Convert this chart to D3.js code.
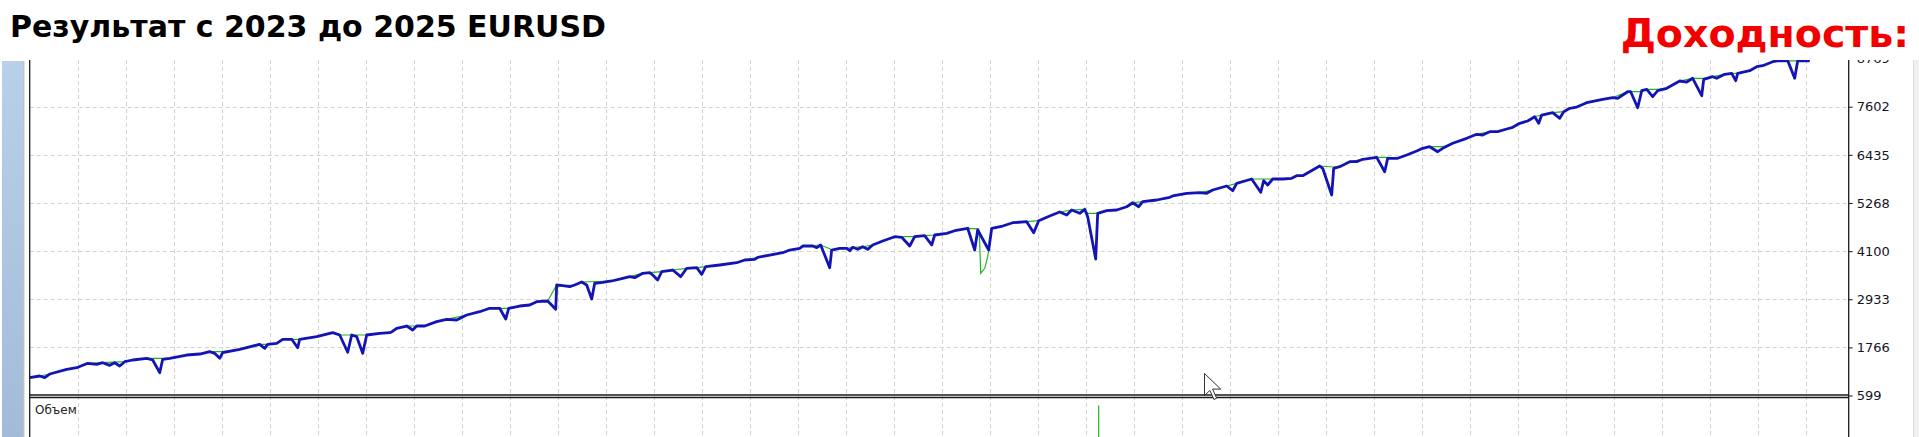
<!DOCTYPE html>
<html>
<head>
<meta charset="utf-8">
<script src="https://cdn.jsdelivr.net/npm/d3@7"></script>
<style>
  body { margin: 0; background: #fff; }
  svg { display: block; }
</style>
</head>
<body>
<svg width="1919" height="437"></svg>
<script>
var width = 1919;
var height = 437;

var titleText = "Результат с 2023 до 2025 EURUSD";
var yieldText = "Доходность:";
var volumeLabel = "Объем";

// y axis labels on the right
var yTicks = [599, 1766, 2933, 4100, 5268, 6435, 7602, 8769];

// trade number, balance (blue)
var balance = [
  [0,1031],[10,1072],[15,1031],[20,1120],[37,1234],[47,1273],[58,1380],[67,1356],[73,1394],[80,1331],[85,1394],[90,1314],[95,1419],[103,1460],[117,1501],[123,1460],[130,1152],[133,1477],[140,1501],[157,1581],[170,1605],[180,1661],[185,1622],[190,1501],[193,1637],[210,1719],[230,1841],[235,1744],[238,1841],[247,1865],[253,1962],[262,1962],[268,1758],[270,1962],[287,2025],[303,2122],[310,2066],[318,1647],[322,2066],[327,2025],[333,1622],[337,2066],[350,2107],[360,2122],[362,2139],
  [367,2229],[377,2284],[383,2187],[387,2284],[395,2284],[407,2389],[417,2447],[427,2430],[437,2551],[450,2631],[460,2714],[470,2714],[476,2454],[479,2714],[490,2769],[500,2794],[507,2874],[518,2891],[526,2689],[527,3279],[533,3262],[540,3237],[545,3279],[552,3351],[557,3279],[562,2939],[565,3320],[573,3344],[582,3376],[593,3441],[600,3480],[605,3456],[613,3562],[620,3577],[623,3521],[628,3400],[632,3601],[643,3642],[651,3480],[657,3684],[667,3698],[672,3538],[676,3722],[690,3764],[707,3819],[715,3885],[725,3902],[728,3950],[740,4006],[753,4062],[760,4127],[770,4169],[773,4224],[783,4224],[787,4183],[791,4249],[800,3698],[802,4127],[810,4169],[817,4169],[820,4110],
  [823,4193],[828,4144],[833,4207],[838,4144],[843,4249],[853,4346],[865,4450],[872,4435],[880,4224],[885,4450],[895,4474],[902,4249],[905,4491],[917,4532],[925,4595],[938,4654],[945,4127],[948,4612],[959,4127],[962,4654],[973,4709],[983,4789],[997,4814],[1004,4547],[1009,4838],[1020,4952],[1030,5049],[1037,4976],[1042,5097],[1050,5017],[1055,5114],[1058,4935],[1066,3909],[1068,5017],[1077,5080],[1087,5097],[1097,5177],[1103,5274],[1109,5177],[1113,5299],[1127,5340],[1140,5405],[1143,5437],[1157,5502],[1170,5517],[1177,5502],[1183,5582],[1197,5679],[1203,5565],[1207,5745],[1222,5849],[1231,5527],[1234,5808],[1238,5704],[1243,5849],[1253,5849],[1262,5866],[1267,5929],
  [1273,5929],[1290,6164],[1293,6109],[1302,5461],[1304,6109],[1310,6147],[1320,6269],[1327,6269],[1333,6327],[1347,6375],[1355,6026],[1358,6351],[1368,6351],[1377,6431],[1387,6528],[1393,6594],[1400,6632],[1408,6511],[1413,6594],[1423,6715],[1437,6836],[1447,6933],[1453,6916],[1460,6996],[1468,6996],[1477,7062],[1483,7103],[1490,7200],[1498,7256],[1505,7360],[1509,7200],[1512,7401],[1523,7457],[1530,7321],[1534,7481],[1540,7564],[1547,7595],
  [1557,7699],[1573,7782],[1583,7821],[1588,7806],[1598,7966],[1601,7966],[1608,7578],[1612,7990],[1617,8024],[1623,7845],[1628,7990],[1637,8049],[1650,8226],[1657,8201],[1663,8291],[1672,7869],[1674,8267],[1683,8330],[1687,8291],[1695,8388],[1702,8412],[1706,8233],[1708,8412],[1720,8475],[1727,8572],[1733,8597],[1743,8694],[1748,8715],[1758,8720],[1765,8291],[1768,8715],[1773,8720],[1780,8715]
];

// trade number, equity (green)
var equity = [
  [0,1031],[10,1072],[20,1120],[37,1234],[47,1273],[58,1380],[73,1394],[95,1419],[103,1460],[117,1501],[140,1501],[157,1581],[170,1605],[180,1661],[193,1661],[210,1719],[230,1841],[238,1841],[247,1865],[253,1962],[270,1962],[287,2025],[303,2122],[310,2066],[337,2066],[350,2107],[362,2139],
  [367,2229],[377,2284],[395,2284],[407,2389],[417,2447],[437,2551],[450,2631],[460,2714],[479,2714],[490,2769],[500,2794],[507,2874],[518,2891],[527,3279],[533,3262],[545,3279],[552,3351],[582,3376],[593,3441],[600,3480],[613,3562],[620,3577],[632,3601],[643,3642],[657,3684],[667,3698],[676,3722],[690,3764],[707,3819],[715,3885],[728,3950],[740,4006],[753,4062],[760,4127],[770,4169],[773,4224],[791,4249],[800,4160],[802,4127],[810,4169],[820,4180],
  [833,4207],[843,4249],[853,4346],[865,4450],[885,4450],[895,4474],[905,4491],[917,4532],[925,4595],[938,4654],[949,4640],[950,4300],[951,3562],[955,3684],[958,3965],[959,4127],[962,4654],[973,4709],[983,4789],[997,4814],[1009,4838],[1020,4952],[1030,5049],[1042,5097],[1055,5114],[1058,5017],[1068,5017],[1077,5080],[1087,5097],[1097,5177],[1103,5274],[1113,5299],[1127,5340],[1140,5405],[1143,5437],[1157,5502],[1170,5517],[1183,5582],[1197,5679],[1207,5745],[1222,5849],[1253,5849],[1262,5866],[1267,5929],
  [1273,5929],[1290,6164],[1304,6140],[1310,6147],[1320,6269],[1333,6327],[1347,6375],[1358,6375],[1368,6351],[1377,6431],[1387,6528],[1393,6594],[1400,6632],[1413,6632],[1423,6715],[1437,6836],[1447,6933],[1460,6996],[1468,6996],[1477,7062],[1483,7103],[1490,7200],[1498,7256],[1505,7360],[1512,7401],[1523,7457],[1534,7481],[1540,7564],[1547,7595],
  [1557,7699],[1573,7782],[1583,7821],[1598,7966],[1612,7966],[1617,8024],[1628,8024],[1637,8049],[1650,8226],[1663,8291],[1674,8291],[1683,8330],[1695,8388],[1702,8412],[1708,8412],[1720,8475],[1727,8572],[1733,8597],[1743,8694],[1748,8715],[1780,8715]
];

// trade number, volume
var volume = [[1069, 0.95]];

var left = 29.7, right = 1848.7;
var panelTop = 60, sep = 395.5, bottom = height;

var x = d3.scaleLinear().domain([0, 1819]).range([left, right]);
var y = d3.scaleLinear().domain([599, 8769]).range([sep, 58.6]);
var yVol = d3.scaleLinear().domain([0, 1]).range([470, 402]);

var svg = d3.select('svg');

svg.append('rect').attr('width', width).attr('height', height).attr('fill', '#fff');

var defs = svg.append('defs');
var grad = defs.append('linearGradient')
  .attr('id', 'strip')
  .attr('x1', 0).attr('y1', 0).attr('x2', 0).attr('y2', 1);
grad.append('stop').attr('offset', '0%').attr('stop-color', '#b9d0ea');
grad.append('stop').attr('offset', '100%').attr('stop-color', '#a4bbd8');

defs.append('clipPath').attr('id', 'main')
  .append('rect')
  .attr('x', left).attr('y', panelTop)
  .attr('width', right - left).attr('height', sep - panelTop);

defs.append('clipPath').attr('id', 'vol')
  .append('rect')
  .attr('x', left).attr('y', sep + 2)
  .attr('width', right - left).attr('height', bottom - sep);

defs.append('clipPath').attr('id', 'axisclip')
  .append('rect')
  .attr('x', right).attr('y', panelTop)
  .attr('width', 70).attr('height', bottom - panelTop);

// left blue strip
svg.append('rect')
  .attr('x', 2).attr('y', panelTop + 1)
  .attr('width', 21).attr('height', bottom - panelTop)
  .attr('fill', 'url(#strip)');
svg.append('line')
  .attr('x1', 23.8).attr('x2', 23.8)
  .attr('y1', panelTop + 1).attr('y2', bottom)
  .attr('stroke', '#a8a8a8').attr('stroke-width', 1);

// right grey edge
svg.append('rect')
  .attr('x', 1913).attr('y', panelTop)
  .attr('width', 6).attr('height', bottom - panelTop)
  .attr('fill', '#f0f0f0');
svg.append('line')
  .attr('x1', 1913.5).attr('x2', 1913.5)
  .attr('y1', panelTop).attr('y2', bottom)
  .attr('stroke', '#dcdcdc');

// grid
var grid = svg.append('g')
  .attr('stroke', '#d2d2d2')
  .attr('stroke-width', 1)
  .attr('stroke-dasharray', '4,3');

grid.selectAll('.vg')
  .data(d3.range(48, 1819, 48))
  .enter()
  .append('line')
    .attr('x1', d => Math.round(x(d)) + 0.5)
    .attr('x2', d => Math.round(x(d)) + 0.5)
    .attr('y1', panelTop)
    .attr('y2', bottom);

grid.selectAll('.hg')
  .data(yTicks.filter(d => d > 599 && d < 8769))
  .enter()
  .append('line')
    .attr('x1', left)
    .attr('x2', right)
    .attr('y1', d => Math.round(y(d)) + 0.5)
    .attr('y2', d => Math.round(y(d)) + 0.5);

// equity and balance
var line = d3.line()
  .x(d => x(d[0]))
  .y(d => y(d[1]));

var plot = svg.append('g').attr('clip-path', 'url(#main)');

plot.append('path')
  .datum(equity)
  .attr('fill', 'none')
  .attr('stroke', '#1fb51f')
  .attr('stroke-width', 1.2)
  .attr('d', line);

plot.append('path')
  .datum(balance)
  .attr('fill', 'none')
  .attr('stroke', '#1414b6')
  .attr('stroke-width', 2.8)
  .attr('stroke-linejoin', 'round')
  .attr('d', line);

// volume panel
svg.append('g')
  .attr('clip-path', 'url(#vol)')
  .selectAll('.vol')
  .data(volume)
  .enter()
  .append('line')
    .attr('x1', d => x(d[0]))
    .attr('x2', d => x(d[0]))
    .attr('y1', d => yVol(d[1]))
    .attr('y2', bottom)
    .attr('stroke', '#1fb51f')
    .attr('stroke-width', 1.2);

svg.append('text')
  .attr('x', 35)
  .attr('y', 414)
  .style('font-family', 'DejaVu Sans, sans-serif')
  .style('font-size', '12px')
  .attr('fill', '#222')
  .text(volumeLabel);

// frame lines
var frame = svg.append('g').attr('stroke', '#1a1a1a').attr('stroke-width', 1.3);
frame.append('line').attr('x1', left).attr('x2', left).attr('y1', panelTop).attr('y2', bottom);
frame.append('line').attr('x1', right).attr('x2', right).attr('y1', panelTop).attr('y2', bottom);
frame.append('line').attr('x1', left).attr('x2', right).attr('y1', 395).attr('y2', 395);
frame.append('line').attr('x1', left).attr('x2', right).attr('y1', 397.5).attr('y2', 397.5);

// right axis, clipped under the header like the original
var axis = svg.append('g')
  .attr('clip-path', 'url(#axisclip)')
  .append('g')
  .attr('transform', 'translate(' + right + ',0)')
  .call(d3.axisRight(y).tickValues(yTicks).tickSize(4).tickPadding(4).tickFormat(d3.format('d')));
axis.select('.domain').remove();
axis.selectAll('line').attr('stroke', '#1a1a1a');
axis.selectAll('text')
  .attr('fill', '#15151f')
  .style('font-family', 'DejaVu Sans, sans-serif')
  .style('font-size', '13px');

// cursor
var cur = [[0,0],[0,17],[4,13],[7,20],[9,19],[6,12],[12,12]];
svg.append('polygon')
  .attr('points', cur.map(p => (1204.5 + p[0] * 1.35) + ',' + (373.5 + p[1] * 1.3)).join(' '))
  .attr('fill', '#fff')
  .attr('stroke', '#333')
  .attr('stroke-width', 1);

svg.append('text')
  .attr('x', 10)
  .attr('y', 37)
  .style('font-family', 'DejaVu Sans, sans-serif')
  .style('font-weight', 'bold')
  .style('font-size', '30px')
  .attr('fill', '#000')
  .text(titleText);

svg.append('text')
  .attr('x', 1909)
  .attr('y', 47)
  .attr('text-anchor', 'end')
  .style('font-family', 'DejaVu Sans, sans-serif')
  .style('font-weight', 'bold')
  .style('font-size', '39.5px')
  .attr('fill', '#f20000')
  .text(yieldText);
</script>
</body>
</html>
